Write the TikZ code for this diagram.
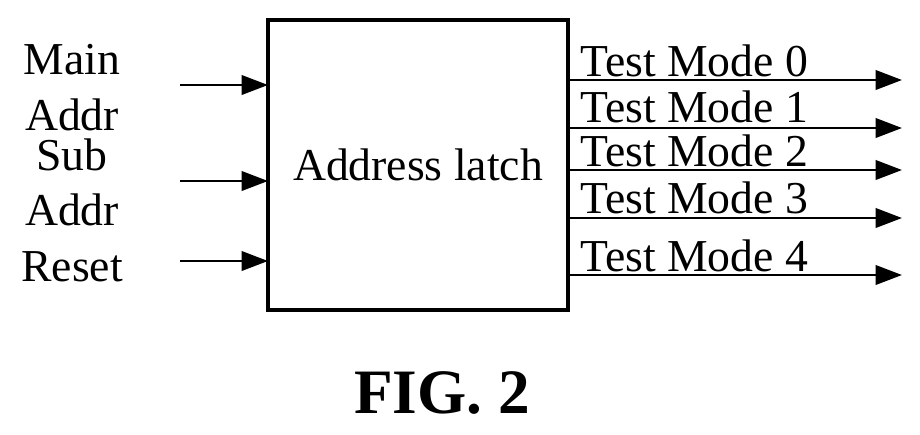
\documentclass[tikz,border=0pt]{standalone}
\usepackage{fontspec}
\setmainfont{Liberation Serif}
\usetikzlibrary{arrows.meta}
\begin{document}
\begin{tikzpicture}[x=0.02cm,y=-0.02cm,
  lbl/.style={font=\fontsize{26}{28}\selectfont,inner sep=0pt},
  ar/.style={line width=1.6pt,-{Triangle[length=15pt,width=11pt]}}]
\useasboundingbox (0,0) rectangle (920,434);
\node[draw,line width=2pt,minimum width=300*0.02cm,minimum height=290*0.02cm,inner sep=0pt,lbl] (box) at (418,165) {Address latch};
\foreach \n/\y in {a/85,b/181,c/261}{\coordinate (s\n) at (180,\y); \coordinate (e\n) at (268,\y); \draw[ar] (s\n) -- (e\n);}
\foreach \n/\y in {0/80,1/128,2/170,3/218,4/275}{\coordinate (o\n) at (568,\y); \coordinate (t\n) at (902,\y); \draw[ar] (o\n) -- (t\n);}
\node[lbl] (l1) at (72,60) {Main};
\node[lbl] (l2) at (72,115) {Addr};
\node[lbl] (l3) at (72,155) {Sub};
\node[lbl] (l4) at (72,210) {Addr};
\node[lbl] (l5) at (72,267) {Reset};
\foreach \n/\y in {0/61,1/107,2/151,3/198,4/256}{\node[lbl,anchor=west] (r\n) at (580,\y) {Test Mode \n};}
\node[font=\bfseries\fontsize{36}{38}\selectfont,inner sep=0pt] (fig) at (442,393) {FIG. 2};
\end{tikzpicture}
\end{document}
